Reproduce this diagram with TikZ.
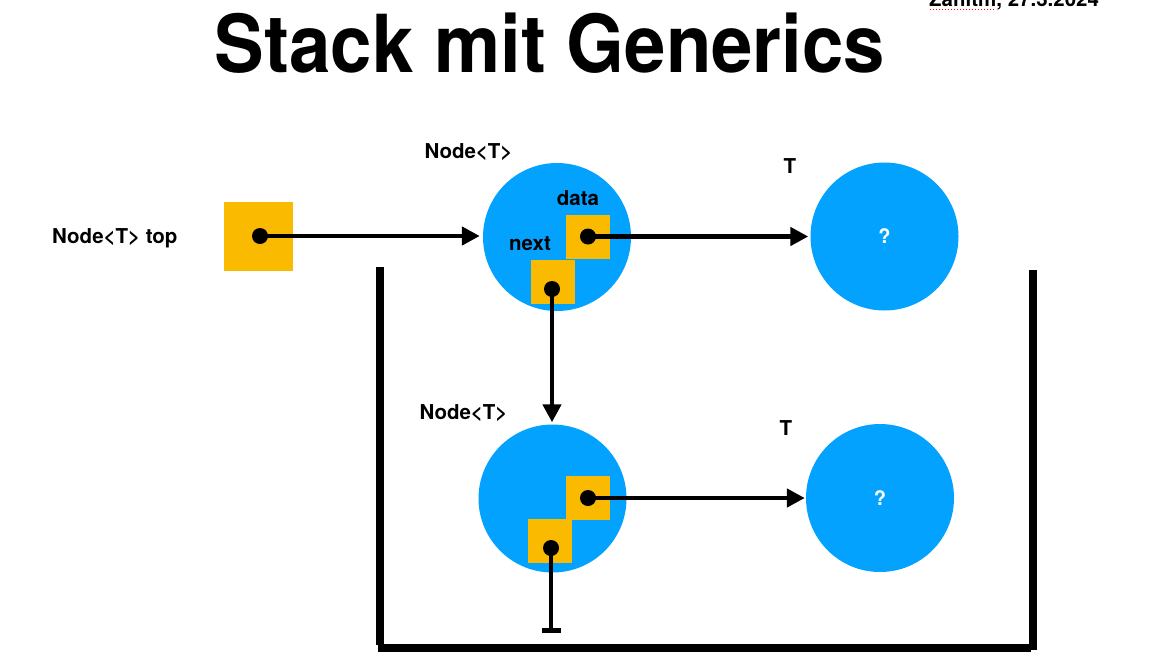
\documentclass[tikz,border=0pt]{standalone}
\usepackage{fontspec}
\setmainfont{TeX Gyre Heros}
\usetikzlibrary{arrows.meta}

\definecolor{nodeblue}{RGB}{4,162,255}
\definecolor{slotyellow}{RGB}{250,186,0}

\tikzset{
  circ/.style={circle, fill=nodeblue, draw=none, minimum size=148pt, inner sep=0pt,
               text=white, font=\fontsize{20}{24}\selectfont\bfseries},
  bigslot/.style={rectangle, fill=slotyellow, draw=none, minimum size=69pt, inner sep=0pt},
  slot/.style={rectangle, fill=slotyellow, draw=none, minimum size=44pt, inner sep=0pt},
  dot/.style={circle, fill=black, draw=none, minimum size=16pt, inner sep=0pt},
  lbl/.style={inner sep=0pt, font=\fontsize{20.5}{24}\selectfont\bfseries},
  ptr/.style={line width=4.8pt, -{Triangle[length=18pt,width=18pt]}},
  nilptr/.style={line width=4.8pt, -{Bar[width=19pt]}},
  wall/.style={line width=8pt},
}

\begin{document}
\begin{tikzpicture}[x=1pt,y=-1pt]
  \useasboundingbox (0,0) rectangle (1151,667);

  % header
  \node[anchor=base, inner sep=0pt, xscale=0.93, transform shape,
        font=\fontsize{80}{90}\selectfont\bfseries] (title) at (550,72) {Stack mit Generics};
  \begin{scope}
    \clip (0,0) rectangle (1151,667);
    \node[anchor=base west, inner sep=0pt, font=\fontsize{20.5}{24}\selectfont\bfseries]
      (stamp) at (929,6) {Zahltm, 27.3.2024};
    \draw[red, line width=1pt, dotted] (stamp.base west) ++(1,3) -- ++(66,0);
  \end{scope}

  % container walls
  \coordinate (wlt) at (380,267);
  \coordinate (wlb) at (380,645);
  \coordinate (wbl) at (378,648);
  \coordinate (wbr) at (1031,648);
  \coordinate (wrt) at (1033,270);
  \coordinate (wrb) at (1033,650);
  \draw[wall] (wlt) -- (wlb);
  \draw[wall] (wbl) -- (wbr);
  \draw[wall] (wrt) -- (wrb);

  % circles
  \node[circ] (n1) at (557,237) {};
  \node[circ] (t1) at (884.5,236.5) {?};
  \node[circ] (n2) at (552.5,498.5) {};
  \node[circ] (t2) at (880,498) {?};

  % reference slots
  \node[bigslot] (topbox) at (258.5,236.5) {};
  \node[slot] (data1) at (588,236.5) {};
  \node[slot] (next1) at (553,281.5) {};
  \node[slot] (data2) at (588,498) {};
  \node[slot] (next2) at (549.5,541) {};

  % labels
  \node[lbl, anchor=west] (toplbl) at (52,238) {Node<T> top};
  \node[lbl] (n1lbl) at (468.5,152) {Node<T>};
  \node[lbl] (n2lbl) at (463.5,413) {Node<T>};
  \node[lbl] (datalbl) at (578,198) {data};
  \node[lbl] (nextlbl) at (530,244) {next};
  \node[lbl] (t1lbl) at (790,166) {T};
  \node[lbl] (t2lbl) at (786,428) {T};

  % pointer origins
  \coordinate (topdot) at (260,236);
  \coordinate (d1dot) at (588,236.5);
  \coordinate (x1dot) at (552,289);
  \coordinate (d2dot) at (588,498);
  \coordinate (x2dot) at (551,548);
  \coordinate (nilend) at (551,633);

  % pointers
  \draw[ptr, shorten >=3pt] (topdot) -- (topdot -| n1.west);
  \draw[ptr, shorten >=2pt] (d1dot) -- (d1dot -| t1.west);
  \draw[ptr, shorten >=2pt] (x1dot) -- (x1dot |- n2.north);
  \draw[ptr, shorten >=1pt] (d2dot) -- (d2dot -| t2.west);
  \draw[nilptr] (x2dot) -- (nilend);

  % dots
  \foreach \p in {topdot,d1dot,x1dot,d2dot,x2dot}
    \node[dot] at (\p) {};
\end{tikzpicture}
\end{document}
